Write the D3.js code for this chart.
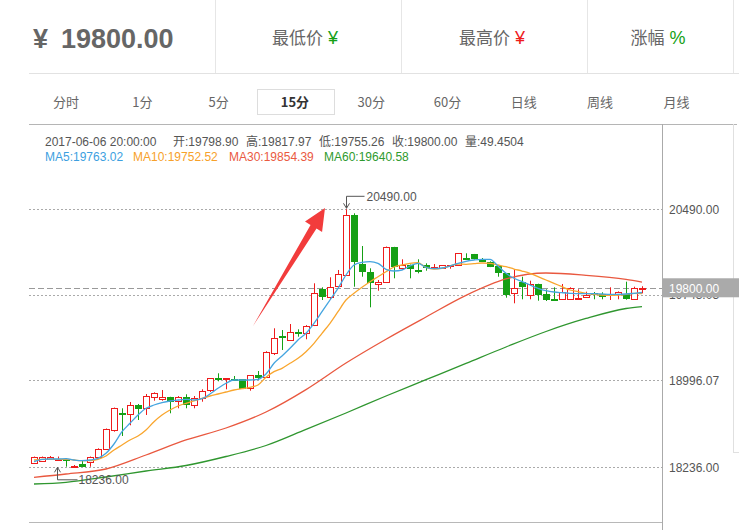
<!DOCTYPE html>
<html><head><meta charset="utf-8">
<script src="https://cdn.jsdelivr.net/npm/d3@7"></script>
<style>
html,body{margin:0;padding:0;background:#fff;}
svg{display:block;font-family:"Liberation Sans","Noto Sans CJK SC",sans-serif;}
</style></head><body>
<svg id="c" width="739" height="530"></svg>
<script>
// ---------- data ----------
const open = [18276.3,18291.1,18306.0,18305.0,18307.0,18245.0,18262.3,18285.0,18323.4,18395.9,
18561.9,18710.4,18699.1,18780.3,18751.5,18847.6,18830.1,18847.6,18817.9,18852.8,
18777.7,18838.9,18911.4,19011.9,19004.8,19009.0,19004.8,18926.2,19039.8,19022.3,
19232.0,19379.6,19348.2,19413.7,19406.7,19476.6,19791.1,19721.2,19819.9,19916.0,
20440.2,20012.1,19944.8,19837.4,19854.8,20158.0,19974.5,20003.4,19961.4,20006.0,
19980.7,19979.8,19998.0,20003.4,20064.5,20096.8,20050.8,20032.2,19997.2,19930.8,
19756.1,19852.2,19741.3,19837.4,19750.0,19706.0,19703.7,19703.7,19710.0,19721.2,
19758.0,19750.0,19748.0,19747.4,19747.4,19703.7,19798.90];
const close = [18323.4,18323.4,18323.0,18308.0,18305.0,18249.0,18241.4,18323.4,18393.3,18568.0,
18751.5,18705.0,18777.7,18748.0,18858.9,18882.5,18847.6,18809.1,18852.8,18777.7,
18844.1,18902.6,19013.6,19007.5,19013.6,19005.0,18922.7,19039.8,19018.8,19243.3,
19363.0,19374.4,19420.7,19409.3,19473.1,19756.1,19721.2,19813.8,19924.7,20440.2,
20032.2,19939.6,19843.5,19854.8,20158.0,19988.5,20003.4,19965.8,19955.3,19979.8,
19985.9,20000.7,20001.0,20105.6,20059.3,20053.2,20046.0,19988.5,19930.8,19741.3,
19805.1,19813.8,19837.4,19743.9,19697.6,19702.0,19770.1,19799.8,19714.0,19741.3,
19753.6,19721.2,19751.0,19770.1,19703.7,19799.8,19800.00];
const high = [18330,18330,18334.8,18330,18314.7,18256,18299.8,18330,18402,18575,
18758,18751.5,18806.5,18789.1,18876.4,18891,18911.4,18852,18858,18873.8,
18858.9,18917.5,19016,19057.2,19016,19033.7,19007,19042,19077.3,19250,
19450.4,19435.5,19487.9,19441.6,19478,19843.5,19808.5,19895.9,19959.7,20490,
20455,20169.3,19974.5,19872.3,20165,20162,20053.2,20008,20053.2,20018,
20012.1,20003,20003.4,20108,20105.6,20100,20064.5,20035,20000,19933,
19965.8,19901.1,19866.2,19840,19791.1,19808.5,19837.4,19808.5,19791.1,19770.1,
19767.5,19764.9,19808.5,19773,19857.5,19813.8,19817.97];
const low = [18269,18285,18300,18300,18241.4,18240,18238,18241,18320,18390,
18547,18509.5,18603,18649.3,18693,18817.9,18818,18707.8,18751.5,18751.5,
18751.5,18809,18893.9,18987.4,18917.5,18998.7,18920,18905.2,18998.7,19018,
19217.1,19260.8,19340,19377,19354.3,19470,19697.6,19703.7,19815,19910,
19813.8,19901.1,19633.8,19778.8,19850,19887.2,19959.7,19887.2,19930.8,19953.6,
19974.5,19977,19971,19994.6,20053.2,20050,20032.2,19985,19901.1,19717.7,
19668.8,19703.7,19703.7,19691.5,19688.9,19700,19697.6,19697.6,19697.6,19718,
19703.7,19703.7,19697.6,19703.7,19700,19700,19755.26];

const ma5 = [18285.0,18306.0,18308.6,18308.6,18311.2,18299.8,18293.7,18299.8,18314.7,18358.4,
18439.6,18547.1,18620.5,18693.0,18751.5,18780.3,18800.4,18815.3,18824.0,18830.1,
18824.0,18835.4,18876.4,18926.2,18969.9,18998.7,18998.7,18998.7,19004.8,19051.1,
19144.6,19208.4,19275.7,19348.2,19406.7,19494.1,19595.4,19697.6,19799.8,19916.0,
20003.4,20026.9,20032.2,20018.2,19965.8,19950.9,19959.7,19994.6,20018.2,19983.3,
19971.0,19977.2,19994.6,20018.2,20035.7,20047.0,20053.2,20053.2,19994.6,19930.8,
19887.2,19857.5,19828.6,19799.8,19778.8,19767.5,19761.4,19756.1,19752.6,19752.6,
19752.6,19750.0,19747.4,19747.4,19750.0,19756.1,19763.02];
const ma10 = [18299.8,18306.0,18306.0,18306.0,18306.0,18299.8,18293.7,18293.7,18306.0,18334.8,
18387.2,18430.9,18474.6,18509.5,18561.9,18634.4,18693.0,18736.6,18771.6,18795.2,
18815.3,18838.9,18858.9,18876.4,18893.9,18911.4,18922.7,18934.9,18955.0,19022.3,
19071.3,19100.9,19144.6,19188.3,19246.0,19319.3,19406.7,19494.1,19595.4,19697.6,
19756.1,19808.5,19857.5,19901.1,19944.8,19985.9,20003.4,20018.2,20023.5,19983.3,
19968.4,19974.5,19994.6,20012.1,20009.4,20014.7,20020.8,20018.2,20003.4,19988.5,
19968.4,19950.9,19930.8,19901.1,19872.3,19843.5,19813.8,19785.0,19770.1,19756.1,
19747.4,19741.3,19738.7,19741.3,19747.4,19756.1,19752.52];
const maSampleIdx = [0,4,9,14,19,24,29,34,39,44,49,54,59,64,69,74,76];
const ma30 = [18148.7,18177.5,18221.2,18343.5,18474.6,18579.4,18719.2,18914.9,19147.2,19355.1,
19549.1,19737.8,19881.1,19933.5,19913.4,19877.6,19854.39];
const ma60 = [18090.2,18105.0,18151.3,18203.7,18251.8,18330.4,18426.5,18567.2,18710.4,18858.9,
19001.3,19143.7,19287.0,19422.4,19536.0,19623.3,19640.58];

const yTicks = [20490.00, 19743.03, 18996.07, 18236.00];
const lastPrice = 19800.00;
const lowMark = {index: 3, value: 18236.00};
const headerItems = [["最低价","¥"],["最高价","¥"],["涨幅","%"]];
const tabs = ["分时","1分","5分","15分","30分","60分","日线","周线","月线"];
const activeTab = "15分";
const infoLine1 = [["2017-06-06 20:00:00",45],["开:19798.90",173],["高:19817.97",246],["低:19755.26",319],["收:19800.00",392],["量:49.4504",465]];
const infoLine2 = [["MA5:19763.02",45,"#3d9fdf"],["MA10:19752.52",133,"#f7a12a"],["MA30:19854.39",229,"#ea5a3f"],["MA60:19640.58",324,"#2e9a2e"]];

// ---------- drawing ----------
const svg = d3.select('#c');
const UP = "#ee1c1c", DOWN = "#15a015";
const C5="#45a5e0", C10="#f9a62e", C30="#e9583f", C60="#2f962f";

// header
svg.append('line').attr('x1',29).attr('x2',739).attr('y1',73.5).attr('y2',73.5).attr('stroke','#e2e2e2');
[215.5,401.5,587.5].forEach(x=>svg.append('line').attr('x1',x).attr('x2',x).attr('y1',0).attr('y2',73).attr('stroke','#e6e6e6'));
svg.append('line').attr('x1',733.5).attr('x2',733.5).attr('y1',0).attr('y2',73).attr('stroke','#e6e6e6');
svg.append('text').attr('x',33).attr('y',48).attr('font-size',27).attr('font-weight','bold').attr('fill','#666').text('¥');
svg.append('text').attr('x',61).attr('y',48).attr('font-size',27).attr('font-weight','bold').attr('fill','#666').text(d3.format('.2f')(lastPrice));
const hc = [305,492,658], hcol=[DOWN,UP,DOWN];
headerItems.forEach((h,i)=>{
  const t = svg.append('text').attr('x',hc[i]).attr('y',44).attr('text-anchor','middle').attr('font-size',17).attr('fill','#666');
  t.append('tspan').attr('font-family','"Noto Sans CJK SC"').text(h[0]);
  t.append('tspan').attr('fill',hcol[i]).attr('dx',5).attr('font-size',18).text(h[1]);
});

// tabs
svg.append('rect').attr('x',257.5).attr('y',89.5).attr('width',77).attr('height',25).attr('fill','#fff').attr('stroke','#ddd');
tabs.forEach((t,i)=>{
  svg.append('text').attr('x',66+76.3*i).attr('y',107).attr('text-anchor','middle')
    .attr('font-size',13).attr('font-family','"Noto Sans CJK SC",sans-serif')
    .attr('font-weight', t===activeTab?'bold':'normal')
    .attr('fill', t===activeTab?'#333':'#666').text(t);
});
svg.append('line').attr('x1',29).attr('x2',737).attr('y1',124.5).attr('y2',124.5).attr('stroke','#b5b5b5');

// info text
infoLine1.forEach(d=>svg.append('text').attr('x',d[1]).attr('y',146).attr('font-size',12).attr('fill','#555').text(d[0]));
infoLine2.forEach(d=>svg.append('text').attr('x',d[1]).attr('y',161).attr('font-size',12).attr('fill',d[2]).text(d[0]));

// scales
const idx = d3.range(open.length);
const x = d3.scaleBand().domain(idx).range([30,646]);
const xc = i => x(i) + x.bandwidth()/2;
const y = d3.scaleLinear().domain([18236, 20490]).range([467.3, 209.3]);

// frame lines
svg.append('line').attr('x1',662.5).attr('x2',662.5).attr('y1',124).attr('y2',530).attr('stroke','#aaa');
svg.append('line').attr('x1',29).attr('x2',662).attr('y1',522.5).attr('y2',522.5).attr('stroke','#b8b8b8');
svg.append('line').attr('x1',733.5).attr('x2',733.5).attr('y1',124).attr('y2',452).attr('stroke','#e0e0e0');
svg.append('line').attr('x1',733).attr('x2',739).attr('y1',452.5).attr('y2',452.5).attr('stroke','#e0e0e0');

// grid
yTicks.forEach(v=>{
  const yy = Math.round(y(v))+0.5;
  svg.append('line').attr('x1',29).attr('x2',662).attr('y1',yy).attr('y2',yy)
    .attr('stroke','#aaa').attr('stroke-dasharray','2,2');
});
const yp = Math.round(y(lastPrice))+0.5;
svg.append('line').attr('x1',29).attr('x2',662).attr('y1',yp).attr('y2',yp)
  .attr('stroke','#999').attr('stroke-dasharray','6,3');

// candles
const g = svg.append('g');
idx.forEach(i=>{
  const up = close[i] >= open[i];
  const col = up ? UP : DOWN;
  const cx = Math.round(xc(i));
  g.append('line').attr('x1',cx+0.5).attr('x2',cx+0.5)
    .attr('y1',y(high[i])).attr('y2',y(low[i])).attr('stroke',col).attr('stroke-width',1);
  const top = y(Math.max(open[i],close[i])), bot = y(Math.min(open[i],close[i]));
  if (up) {
    const t = Math.round(top)+0.5, b = Math.max(Math.round(bot)+0.5, t+1);
    g.append('rect').attr('x',cx-2.5).attr('y',t).attr('width',6).attr('height',b-t)
      .attr('fill','#fff').attr('stroke',col).attr('stroke-width',1);
  } else {
    const t = Math.round(top), h = Math.max(Math.round(bot)-t, 2);
    g.append('rect').attr('x',cx-3).attr('y',t).attr('width',7).attr('height',h).attr('fill',col);
  }
});

// MA lines
const lineFull = d3.line().x((d,i)=>xc(i)).y(d=>y(d)).curve(d3.curveMonotoneX);
const lineSparse = d3.line().x(d=>xc(d[0])).y(d=>y(d[1])).curve(d3.curveMonotoneX);
svg.append('path').attr('d',lineSparse(maSampleIdx.map((k,j)=>[k,ma60[j]]))).attr('fill','none').attr('stroke',C60).attr('stroke-width',1.3);
svg.append('path').attr('d',lineSparse(maSampleIdx.map((k,j)=>[k,ma30[j]]))).attr('fill','none').attr('stroke',C30).attr('stroke-width',1.3);
svg.append('path').attr('d',lineFull(ma10)).attr('fill','none').attr('stroke',C10).attr('stroke-width',1.3);
svg.append('path').attr('d',lineFull(ma5)).attr('fill','none').attr('stroke',C5).attr('stroke-width',1.3);

// high marker
const hi = d3.maxIndex(high), hx = Math.round(xc(hi))+0.5, hy = y(high[hi]);
svg.append('path').attr('d',`M${hx},${hy-1}V${hy-13}H${hx+18}`).attr('fill','none').attr('stroke','#555');
svg.append('path').attr('d',`M${hx-3},${hy-6}L${hx},${hy-1}L${hx+3},${hy-6}`).attr('fill','none').attr('stroke','#555');
svg.append('text').attr('x',hx+20).attr('y',hy-8).attr('font-size',12).attr('fill','#555').text(d3.format('.2f')(high[hi]));
// low marker
const lx = Math.round(xc(lowMark.index))-0.5, ly = y(lowMark.value);
svg.append('path').attr('d',`M${lx},${ly}V${ly+12.5}H${lx+20}`).attr('fill','none').attr('stroke','#555');
svg.append('path').attr('d',`M${lx-3},${ly+5}L${lx},${ly}L${lx+3},${ly+5}`).attr('fill','none').attr('stroke','#555');
svg.append('text').attr('x',lx+21).attr('y',ly+17).attr('font-size',12).attr('fill','#555').text(d3.format('.2f')(lowMark.value));

// red arrow annotation (tail at candle 27.4, tip near candle 36.4)
const ax0 = 34 + 8*27.375, ay0 = y(19470.5), ax1 = 34 + 8*36.375, ay1 = y(20501.3);
(function(){
  const dx = ax1-ax0, dy = ay1-ay0, L = Math.hypot(dx,dy), ux = dx/L, uy = dy/L, px = -uy, py = ux;
  const bx = ax1 - ux*22, by = ay1 - uy*22;
  const pts = [[ax0,ay0],[bx-px*3.5,by-py*3.5],[bx-px*10,by-py*10],[ax1,ay1],[bx+px*10,by+py*10],[bx+px*3.5,by+py*3.5]];
  svg.append('polygon').attr('points',pts.map(p=>p.join(',')).join(' ')).attr('fill','#f23c3c');
})();

// y labels (the middle one sits partly under the last-price box, as in the original)
yTicks.forEach(v=>{
  svg.append('text').attr('x',669).attr('y',y(v)+4.5).attr('font-size',12).attr('fill','#555').text(d3.format('.2f')(v));
});
svg.append('rect').attr('x',663).attr('y',y(lastPrice)-10).attr('width',76).attr('height',19).attr('fill','#aaa');
svg.append('text').attr('x',669).attr('y',y(lastPrice)+4.5).attr('font-size',12).attr('fill','#fff').text(d3.format('.2f')(lastPrice));
</script></body></html>
